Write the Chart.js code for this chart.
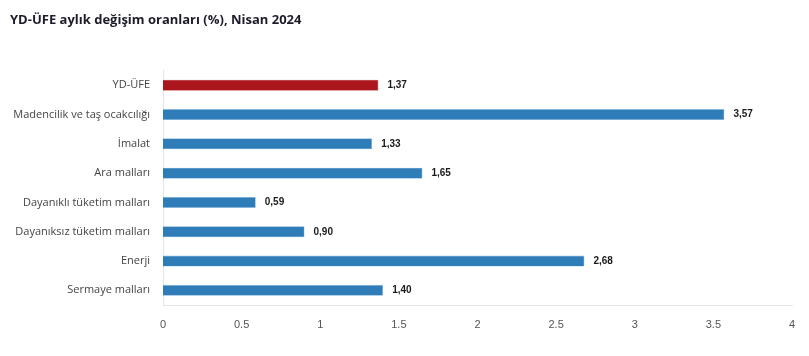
<!DOCTYPE html>
<html>
<head>
<meta charset="utf-8">
<script src="https://cdn.jsdelivr.net/npm/chart.js@4"></script>
<style>
  html, body { margin: 0; padding: 0; background: #fff; }
  #wrap { width: 809px; height: 356px; }
</style>
</head>
<body>
<div id="wrap"><canvas id="c" width="809" height="356"></canvas></div>
<script>
const titleText = 'YD-ÜFE aylık değişim oranları (%), Nisan 2024';
const categories = ['YD-ÜFE', 'Madencilik ve taş ocakcılığı', 'İmalat', 'Ara malları', 'Dayanıklı tüketim malları', 'Dayanıksız tüketim malları', 'Enerji', 'Sermaye malları'];
const values = [1.37, 3.57, 1.33, 1.65, 0.59, 0.90, 2.68, 1.40];
const valueLabels = ['1,37', '3,57', '1,33', '1,65', '0,59', '0,90', '2,68', '1,40'];
const xTicks = ['0', '0.5', '1', '1.5', '2', '2.5', '3', '3.5', '4'];

const barColors = categories.map((c, i) => i === 0 ? '#ab151c' : '#2f7db8');
const borderColors = categories.map((c, i) => i === 0 ? '#c9686c' : '#8dbbe0');

const valueLabelPlugin = {
  id: 'valueLabels',
  afterDatasetsDraw(chart) {
    const ctx = chart.ctx;
    const meta = chart.getDatasetMeta(0);
    ctx.save();
    ctx.font = 'bold 10px "Liberation Sans", Arial, sans-serif';
    ctx.fillStyle = '#1a1a1a';
    ctx.textAlign = 'left';
    ctx.textBaseline = 'middle';
    meta.data.forEach((bar, i) => {
      ctx.fillText(valueLabels[i], bar.x + 9, bar.y);
    });
    ctx.restore();
  }
};

new Chart(document.getElementById('c'), {
  type: 'bar',
  data: {
    labels: categories,
    datasets: [{
      data: values,
      backgroundColor: barColors,
      borderColor: borderColors,
      borderWidth: 0.6,
      barPercentage: 0.75,
      categoryPercentage: 0.5
    }]
  },
  options: {
    indexAxis: 'y',
    responsive: false,
    animation: false,
    devicePixelRatio: 1,
    layout: { padding: { left: 10, right: 17, top: 0, bottom: 0 } },
    plugins: {
      legend: { display: false },
      tooltip: { enabled: false },
      title: {
        display: true,
        text: titleText,
        align: 'start',
        color: '#1c1c2b',
        font: { family: '"Open Sans", "Noto Sans", sans-serif', size: 13, weight: 'bold' },
        padding: { top: 12, bottom: 43 }
      }
    },
    scales: {
      x: {
        min: 0,
        max: 4,
        grid: { display: false },
        border: { display: true, color: '#e6e6e6', width: 1 },
        ticks: {
          stepSize: 0.5,
          color: '#555',
          font: { family: '"Liberation Sans", Arial, sans-serif', size: 11 },
          padding: 5,
          maxRotation: 0,
          callback: (v, i) => xTicks[i]
        },
        afterFit: (s) => { s.height = 51; }
      },
      y: {
        grid: { display: false },
        border: { display: true, color: '#e6e6e6', width: 1 },
        ticks: {
          color: '#444',
          font: { family: '"Open Sans", "Noto Sans", sans-serif', size: 11 },
          padding: 5
        },
        afterFit: (s) => { s.width = 153; }
      }
    }
  },
  plugins: [valueLabelPlugin]
});
</script>
</body>
</html>
